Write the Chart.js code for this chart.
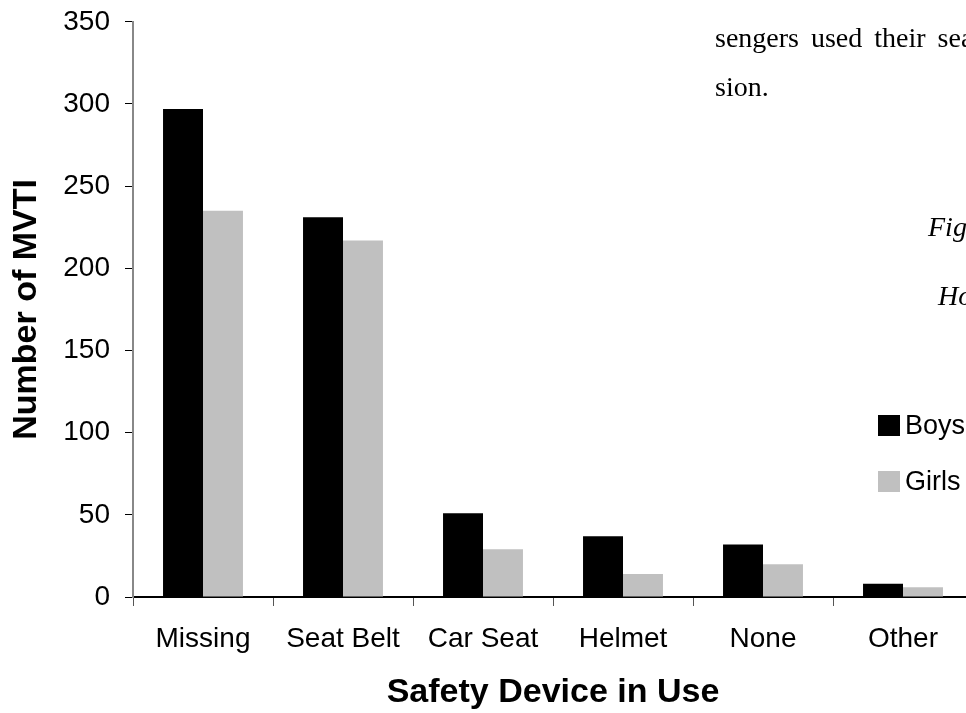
<!DOCTYPE html>
<html>
<head>
<meta charset="utf-8">
<script src="https://cdn.jsdelivr.net/npm/chart.js@4.4.1/dist/chart.umd.min.js"></script>
<style>
html, body { margin: 0; padding: 0; overflow: hidden; background: #fff; }
#wrap { position: relative; width: 1000px; height: 713px; overflow: hidden; }
#myChart { position: absolute; left: 0; top: -10px; }
.txt {
  position: absolute;
  font-family: "Liberation Serif", "Times New Roman", serif;
  font-size: 28px;
  line-height: 28px;
  white-space: nowrap;
  color: #000;
}
.para { word-spacing: 5px; }
.it { font-style: italic; }
</style>
</head>
<body>
<div id="wrap">
  <canvas id="myChart" width="1000" height="723"></canvas>
  <div class="txt para" style="left:715px; top:-26px; color:#aaa;">their seat belts and a</div>
  <div class="txt para" style="left:715px; top:24px;">sengers used their seat</div>
  <div class="txt para" style="left:715px; top:73px;">sion.</div>
  <div class="txt it" style="left:928px; top:213px;">Figure</div>
  <div class="txt it" style="left:938px; top:282px;">How</div>
</div>
<script>
const categories = ['Missing', 'Seat Belt', 'Car Seat', 'Helmet', 'None', 'Other'];
const boys = [297, 231, 51, 37, 32, 8];
const girls = [235, 217, 29, 14, 20, 6];
const yTicks = [0, 50, 100, 150, 200, 250, 300, 350];

const sansFont = '"Liberation Sans", Arial, sans-serif';

// legend sits inside the plot, to the right of the small bars
const sideLegend = {
  id: 'sideLegend',
  afterDraw(chart) {
    const ctx = chart.ctx;
    ctx.save();
    ctx.font = '27px ' + sansFont;
    ctx.textBaseline = 'middle';
    chart.data.datasets.forEach((ds, i) => {
      const y = 425 + i * 56;
      ctx.fillStyle = ds.backgroundColor;
      ctx.fillRect(878, y, 22, 21);
      ctx.fillStyle = '#000';
      ctx.fillText(ds.label, 905, y + 12);
    });
    ctx.restore();
  }
};

const data = {
  labels: categories,
  datasets: [{
    label: 'Boys',
    backgroundColor: '#000000',
    data: boys,
  }, {
    label: 'Girls',
    backgroundColor: '#c0c0c0',
    data: girls,
  }]
};

const config = {
  type: 'bar',
  data,
  plugins: [sideLegend],
  options: {
    responsive: false,
    animation: false,
    layout: { padding: { top: 10, right: 27, left: 0, bottom: 0 } },
    datasets: {
      bar: { barPercentage: 1.0, categoryPercentage: 0.571 }
    },
    plugins: {
      legend: { display: false },
      tooltip: { enabled: false }
    },
    scales: {
      x: {
        afterFit: function(scale) { scale.height = 116; },
        grid: {
          offset: true,
          drawOnChartArea: false,
          tickLength: 9,
          color: '#555'
        },
        border: { color: '#000', width: 2 },
        ticks: {
          color: '#000',
          padding: 16,
          maxRotation: 0,
          font: { family: sansFont, size: 28 }
        },
        title: {
          display: true,
          text: 'Safety Device in Use',
          color: '#000',
          padding: { top: 0, bottom: 0 },
          font: { family: sansFont, size: 34, weight: 'bold' }
        }
      },
      y: {
        min: 0,
        max: 350,
        afterFit: function(scale) { scale.width = 133; },
        afterBuildTicks: function(scale) {
          scale.ticks = yTicks.map(v => ({ value: v }));
        },
        grid: {
          drawOnChartArea: false,
          tickLength: 8,
          color: '#000'
        },
        border: { color: '#888', width: 2 },
        ticks: {
          color: '#000',
          padding: 15,
          font: { family: sansFont, size: 28 }
        },
        title: {
          display: true,
          text: 'Number of MVTI',
          color: '#000',
          padding: { top: 6, bottom: 0 },
          font: { family: sansFont, size: 34, weight: 'bold' }
        }
      }
    }
  }
};

var myChart = new Chart(
  document.getElementById('myChart'),
  config
);
</script>
</body>
</html>
